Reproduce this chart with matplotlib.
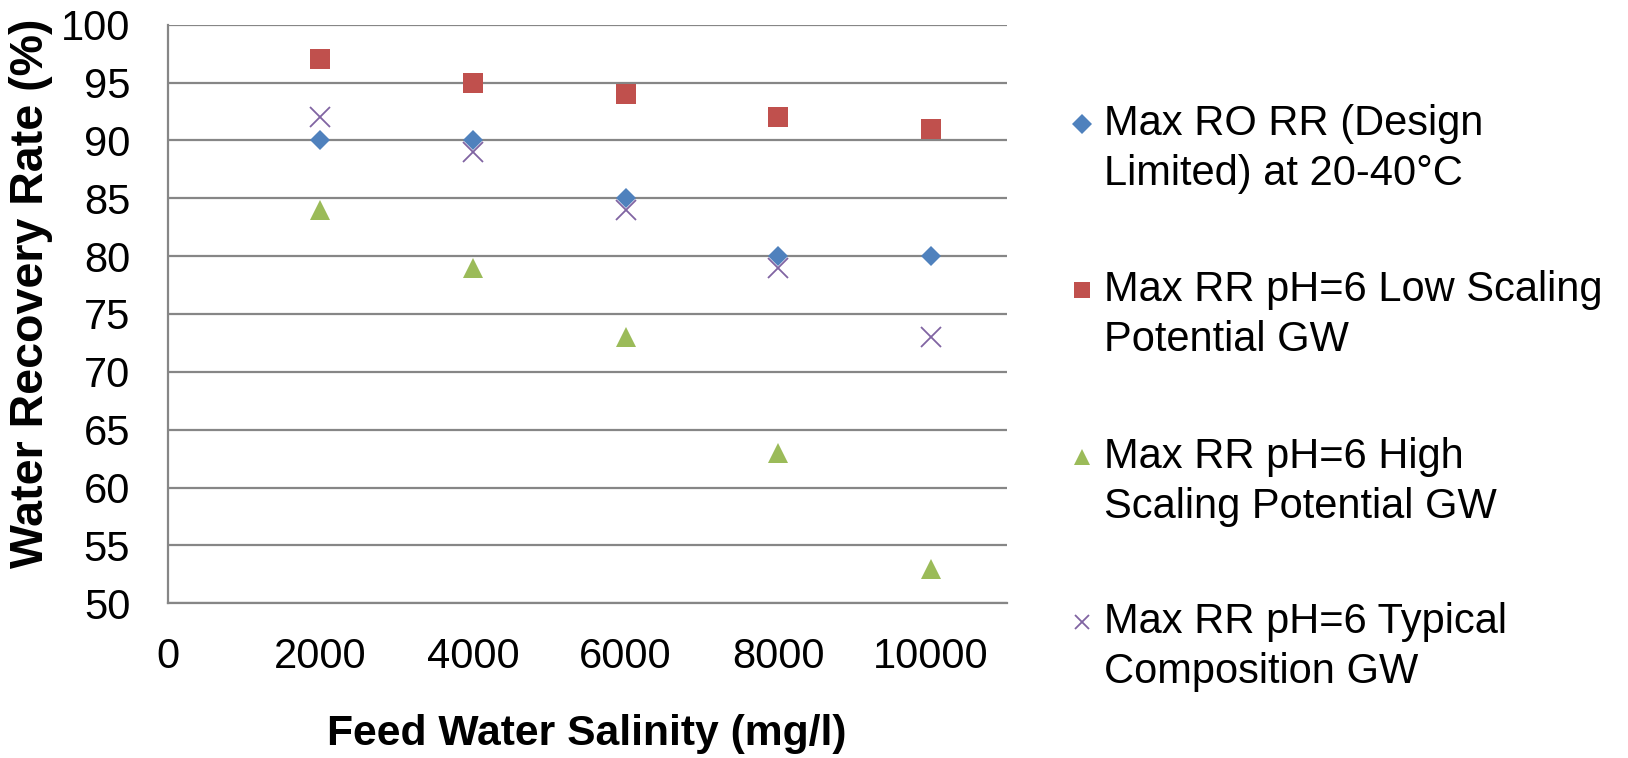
import matplotlib.pyplot as plt
from matplotlib.lines import Line2D

plt.rcParams['font.family'] = ['Liberation Sans', 'DejaVu Sans']

# ------------------------------------------------------------
# data
# ------------------------------------------------------------
salinity = [2000, 4000, 6000, 8000, 10000]
ro_design = [90, 90, 85, 80, 80]
low_scaling = [97, 95, 94, 92, 91]
high_scaling = [84, 79, 73, 63, 53]
typical_comp = [92, 89, 84, 79, 73]

series_labels = [
    ["Max RO RR (Design", "Limited) at 20-40°C"],
    ["Max RR pH=6 Low Scaling", "Potential GW"],
    ["Max RR pH=6 High", "Scaling Potential GW"],
    ["Max RR pH=6 Typical", "Composition GW"],
]
x_ticks = [0, 2000, 4000, 6000, 8000, 10000]
y_ticks = [50, 55, 60, 65, 70, 75, 80, 85, 90, 95, 100]

# marker style per series
styles = [
    dict(marker='D', color='#4F81BD', ms=10.5),
    dict(marker='s', color='#C0504D', ms=14.5),
    dict(marker='^', color='#9BBB59', ms=14.5),
    dict(marker='x', color='#8064A2', ms=14.0, mew=1.3),
]
values = [ro_design, low_scaling, high_scaling, typical_comp]

W, H = 1628, 758
fig = plt.figure(figsize=(W / 100, H / 100), dpi=100)
ax = fig.add_axes([167.7 / W, 1 - 603.3 / H, (1007 - 167.7) / W, (603.3 - 24.7) / H])

for vals, st in zip(values, styles):
    ax.plot(salinity, vals, linestyle='none', marker=st['marker'], color=st['color'],
            markersize=st['ms'], markeredgewidth=st.get('mew', 0), clip_on=False, zorder=3)

ax.set_xlim(0, 11000)
ax.set_ylim(50, 100)
ax.set_xticks(x_ticks)
ax.set_yticks(y_ticks)
ax.tick_params(axis='both', length=0, labelsize=30)
ax.tick_params(axis='x', pad=24)
ax.tick_params(axis='y', pad=27)

ax.grid(axis='y', color='#868686', linewidth=1.6)
ax.set_axisbelow(True)
for side in ['top', 'right']:
    ax.spines[side].set_visible(False)
for side in ['left', 'bottom']:
    ax.spines[side].set_color('#868686')
    ax.spines[side].set_linewidth(1.6)

fig.text(587 / W, 1 - 734 / H, "Feed Water Salinity (mg/l)", fontsize=30.7,
         fontweight='bold', ha='center', va='center')
fig.text(31 / W, 1 - 293 / H, "Water Recovery Rate (%)", fontsize=33.5,
         fontweight='bold', ha='center', va='center', rotation=90)

# ------------------------------------------------------------
# legend drawn by hand (marker aligned with first line)
# ------------------------------------------------------------
first_lines = [124, 290, 457, 621.5]
for y0, lines, st in zip(first_lines, series_labels, styles):
    ms = st['ms'] * (0.75 if st['marker'] != 'D' else 0.95)
    fig.add_artist(Line2D([1082 / W], [1 - y0 / H], transform=fig.transFigure,
                          linestyle='none', marker=st['marker'], color=st['color'],
                          markersize=ms, markeredgewidth=st.get('mew', 0)))
    for i, line in enumerate(lines):
        fig.text(1104 / W, 1 - (y0 + 50 * i) / H, line, fontsize=30,
                 ha='left', va='center')

fig.savefig('out.png', dpi=100)
